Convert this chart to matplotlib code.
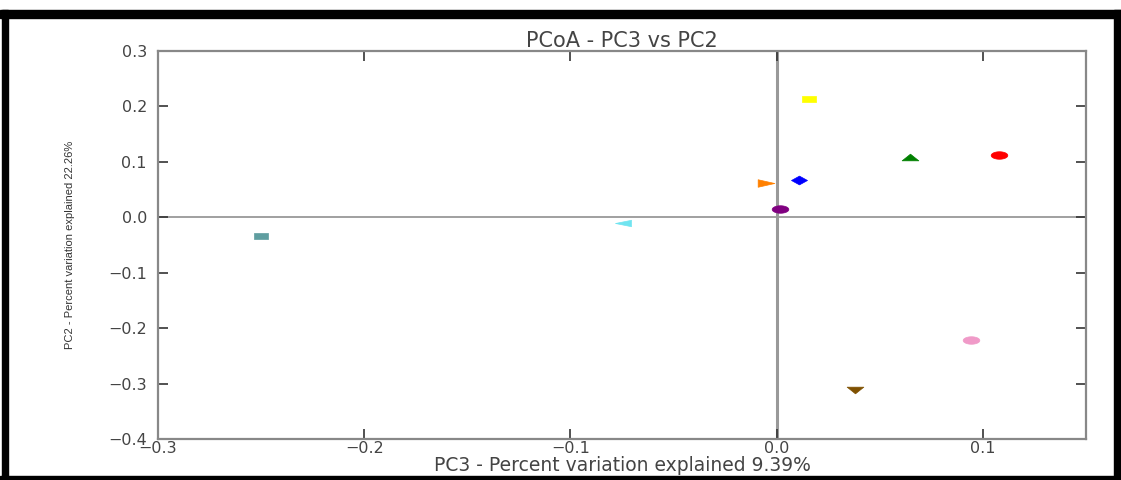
import numpy as np
import matplotlib
matplotlib.use("Agg")
import matplotlib.pyplot as plt
from matplotlib.path import Path
from matplotlib.patches import Rectangle

# ---- data ----
samples = ["s1", "s2", "s3", "s4", "s5", "s6", "s7", "s8", "s9", "s10"]
pc3 = [0.0155, 0.0645, 0.108, 0.011, -0.005, 0.0015, 0.094, 0.038, -0.250, -0.0745]
pc2 = [0.214, 0.109, 0.112, 0.068, 0.062, 0.0145, -0.221, -0.311, -0.034, -0.011]
colors = ["#ffff00", "#008000", "#ff0000", "#0000ff", "#ff8000",
          "#800080", "#f09ac8", "#7f5000", "#5f9ea0", "#70e4f0"]
shapes = ["square", "tri_up", "ellipse", "diamond", "tri_right",
          "ellipse", "ellipse", "tri_down", "square", "tri_left"]

title = "PCoA - PC3 vs PC2"
xlabel = "PC3 - Percent variation explained 9.39%"
ylabel = "PC2 - Percent variation explained 22.26%"
xticks = [-0.3, -0.2, -0.1, 0.0, 0.1]
yticks = [-0.4, -0.3, -0.2, -0.1, 0.0, 0.1, 0.2, 0.3]


# ---- flattened marker shapes (the reference is squashed vertically) ----
def make_marker(kind):
    h = 0.42
    if kind == "square":
        v = [(-1, -h), (1, -h), (1, h), (-1, h), (-1, -h)]
    elif kind == "ellipse":
        t = np.linspace(0, 2 * np.pi, 40)
        v = list(zip(np.cos(t), 0.45 * np.sin(t)))
    elif kind == "diamond":
        v = [(-1, 0), (0, -0.55), (1, 0), (0, 0.55), (-1, 0)]
    elif kind == "tri_up":
        v = [(-1, -0.4), (1, -0.4), (0, 0.4), (-1, -0.4)]
    elif kind == "tri_down":
        v = [(-1, 0.4), (1, 0.4), (0, -0.4), (-1, 0.4)]
    elif kind == "tri_right":
        v = [(-1, -0.45), (1, 0), (-1, 0.45), (-1, -0.45)]
    else:  # tri_left
        v = [(1, -0.4), (-1, 0), (1, 0.4), (1, -0.4)]
    return Path(v, closed=True)


fig = plt.figure(figsize=(11.21, 4.80), dpi=100)
fig.patch.set_facecolor("white")

# black frame around the picture
W, H = 1121.0, 480.0
frame = [(0, 462, 1121, 8),      # top bar (x, y_from_bottom, w, h) in px
         (2, 0, 6, 470),          # left bar
         (1114, 0, 7, 470),       # right bar
         (0, 0, 1121, 4)]         # bottom bar
for x, y, w, h in frame:
    fig.patches.append(Rectangle((x / W, y / H), w / W, h / H,
                                 transform=fig.transFigure, color="black",
                                 zorder=0))

ax = fig.add_axes([158 / W, (480 - 439) / H, (1086 - 158) / W, (439 - 51) / H])
ax.set_xlim(-0.3, 0.15)
ax.set_ylim(-0.4, 0.3)

ax.axvline(0, color="#999999", lw=2.2, zorder=1)
ax.axhline(0, color="#999999", lw=1.3, zorder=1)

sizes = {"square": 10.5, "ellipse": 12, "diamond": 11.5, "tri_up": 12,
         "tri_down": 12, "tri_right": 12, "tri_left": 11.5}
for x, y, c, s in zip(pc3, pc2, colors, shapes):
    ax.plot([x], [y], linestyle="none", marker=make_marker(s),
            markersize=sizes[s], color=c, markeredgecolor=c,
            markeredgewidth=0.5, zorder=3)

for sp in ax.spines.values():
    sp.set_color("#888888")
    sp.set_linewidth(1.6)

ax.set_xticks(xticks)
ax.set_yticks(yticks)
ax.set_xticklabels([f"{t:.1f}".replace("-", "\u2212") for t in xticks])
ax.set_yticklabels([f"{t:.1f}".replace("-", "\u2212") for t in yticks])
ax.tick_params(direction="in", length=7, width=1.2, color="#333333",
               top=True, right=True, labelsize=11.5, labelcolor="#444444")
ax.tick_params(axis="x", pad=1.5)
ax.tick_params(axis="y", pad=8)

ax.set_title(title, fontsize=15, color="#444444", pad=3)
ax.set_xlabel(xlabel, fontsize=13.5, color="#444444", labelpad=0)
ax.set_ylabel(ylabel, fontsize=8, color="#333333", labelpad=24,
              family=["Liberation Sans Narrow", "Liberation Sans"],
              fontstretch="condensed")

fig.savefig("out.png", dpi=100)
